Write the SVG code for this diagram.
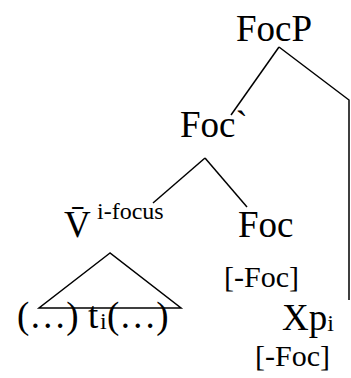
<svg xmlns="http://www.w3.org/2000/svg" width="351" height="378" viewBox="0 0 351 378">
<style>
text{font-family:"Liberation Serif","Times New Roman",serif;fill:#000}
.big{font-size:37px}
.sm{font-size:30px}
.sup{font-size:24px}
.edge{fill:none;stroke:#000;stroke-width:1.5;stroke-linejoin:miter}
</style>
<rect width="351" height="378" fill="#fff"/>
<g id="connectors">
<line class="edge" x1="279" y1="47" x2="231" y2="115"/>
<polyline class="edge" points="279,47 349,100 349,300"/>
<line class="edge" x1="205" y1="158" x2="153" y2="203"/>
<line class="edge" x1="205" y1="158" x2="247" y2="207"/>
<polygon class="edge" points="110,253 39,308 181,308"/>
</g>
<g id="focp"><text class="big" x="236" y="41">FocP</text></g>
<g id="focbar"><text class="big" x="180" y="137">Foc`</text></g>
<g id="vbar"><text class="big" x="64" y="237">V̄</text><text class="sup" x="97" y="219">i-focus</text></g>
<g id="foc"><text class="big" x="238" y="237">Foc</text><text class="sm" x="224" y="287">[-Foc]</text></g>
<g id="content"><text class="big" y="328"><tspan x="17">(…)</tspan><tspan x="88">t</tspan><tspan class="sup" x="100" y="329">i</tspan><tspan x="107" y="328">(…)</tspan></text></g>
<g id="xp"><text class="big" x="282" y="330">Xp<tspan class="sup" y="331">i</tspan></text><text class="sm" x="255" y="366">[-Foc]</text></g>
</svg>
